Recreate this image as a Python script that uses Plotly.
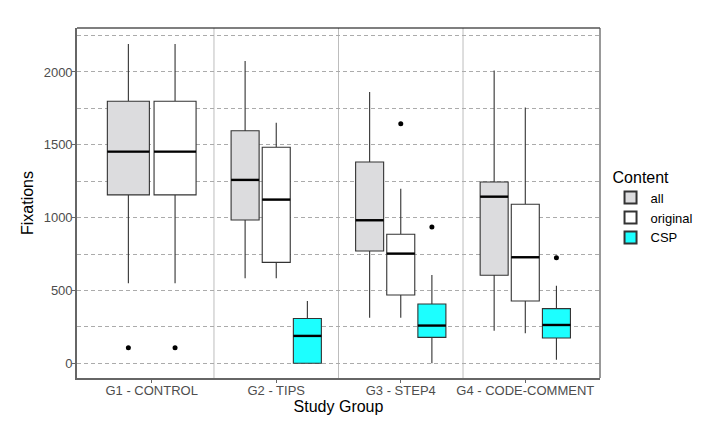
import plotly.graph_objects as go

groups = ["G1 - CONTROL", "G2 - TIPS", "G3 - STEP4", "G4 - CODE-COMMENT"]
contents = ["all", "original", "CSP"]
fills = {"all": "#DCDCDE", "original": "#FFFFFF", "CSP": "#1CFFFF"}

# box statistics per content, one entry per group (None = group has no such content)
all_lower = [549, 584, 313, 224]
all_q1 = [1156, 984, 771, 604]
all_median = [1453, 1259, 982, 1144]
all_q3 = [1799, 1597, 1382, 1245]
all_upper = [2192, 2075, 1863, 2011]
all_outliers = [[107], [], [], []]

original_lower = [549, 584, 313, 206]
original_q1 = [1156, 693, 469, 428]
original_median = [1453, 1124, 753, 728]
original_q3 = [1799, 1483, 886, 1092]
original_upper = [2192, 1652, 1199, 1757]
original_outliers = [[107], [], [1645], []]

csp_lower = [None, 0, 0, 25]
csp_q1 = [None, 0, 178, 174]
csp_median = [None, 188, 259, 263]
csp_q3 = [None, 307, 407, 375]
csp_upper = [None, 428, 606, 533]
csp_outliers = [[], [], [936], [725]]

stats = {
    "all": (all_lower, all_q1, all_median, all_q3, all_upper, all_outliers),
    "original": (original_lower, original_q1, original_median, original_q3, original_upper, original_outliers),
    "CSP": (csp_lower, csp_q1, csp_median, csp_q3, csp_upper, csp_outliers),
}

DODGE = 0.75
PAD = 0.9

fig = go.Figure()
shown = set()
medians = []
for gi, g in enumerate(groups):
    present = [c for c in contents if stats[c][2][gi] is not None]
    n = len(present)
    slot = DODGE / n
    w = slot * PAD
    for k, c in enumerate(present):
        lo, q1, med, q3, up, outl = stats[c]
        pos = (gi + 1) - DODGE / 2 + slot * (k + 0.5)
        fig.add_trace(go.Box(
            x=[pos], q1=[q1[gi]], median=[med[gi]], q3=[q3[gi]],
            lowerfence=[lo[gi]], upperfence=[up[gi]],
            width=w, whiskerwidth=0, boxpoints=False,
            fillcolor=fills[c], line=dict(color="#333333", width=1.1),
            name=c, legendgroup=c, showlegend=c not in shown,
        ))
        shown.add(c)
        medians.append((pos - w / 2, pos + w / 2, med[gi]))
        if outl[gi]:
            fig.add_trace(go.Scatter(
                x=[pos] * len(outl[gi]), y=outl[gi], mode="markers",
                marker=dict(color="black", size=5), showlegend=False, hoverinfo="skip",
            ))

for x0, x1, m in medians:
    fig.add_trace(go.Scatter(x=[x0, x1], y=[m, m], mode="lines",
                             line=dict(color="black", width=2.4),
                             showlegend=False, hoverinfo="skip"))

shapes = []
for gi in range(len(groups) - 1):
    shapes.append(dict(type="line", xref="x", yref="paper", x0=gi + 1.5, x1=gi + 1.5,
                       y0=0, y1=1, line=dict(color="#BDBDBD", width=1), layer="below"))
shapes.append(dict(type="line", xref="paper", yref="paper", x0=0, x1=1, y0=1, y1=1,
                   line=dict(color="black", width=1.2)))
shapes.append(dict(type="line", xref="paper", yref="paper", x0=1, x1=1, y0=0, y1=1,
                   line=dict(color="#555555", width=1.2)))

fig.update_layout(
    width=705, height=441,
    margin=dict(l=77, r=105, t=28, b=63, autoexpand=False),
    paper_bgcolor="white", plot_bgcolor="white",
    boxmode="overlay",
    font=dict(family="Liberation Sans, Arial, sans-serif", color="black"),
    shapes=shapes,
    legend=dict(
        title=dict(text="Content", font=dict(size=16, color="black")),
        font=dict(size=13, color="black"),
        xref="container", yref="container",
        x=0.866, xanchor="left", y=0.633, yanchor="top",
        tracegroupgap=0, itemsizing="constant",
    ),
    xaxis=dict(
        range=[0.4, 4.6], tickvals=[1, 2, 3, 4], ticktext=groups,
        showgrid=False, zeroline=False,
        showline=True, linecolor="#666666", linewidth=1.6,
        ticks="outside", ticklen=3, tickcolor="#666666",
        ticklabelstandoff=-3,
        tickfont=dict(size=13, color="#4D4D4D"),
        title=dict(text="Study Group", font=dict(size=16, color="black"), standoff=0),
    ),
    yaxis=dict(
        range=[-101, 2302], tickvals=[0, 500, 1000, 1500, 2000],
        showgrid=True, gridcolor="#ABABAB", griddash="4px,3px", gridwidth=1,
        minor=dict(tickvals=[250, 750, 1250, 1750, 2250], showgrid=True,
                   gridcolor="#ABABAB", griddash="4px,3px", gridwidth=1),
        zeroline=False,
        showline=True, linecolor="#666666", linewidth=1.6,
        ticks="outside", ticklen=3, tickcolor="#666666",
        ticklabelstandoff=-3,
        tickfont=dict(size=13, color="#4D4D4D"),
        title=dict(text="Fixations", font=dict(size=16, color="black"), standoff=6),
    ),
)

fig.write_html("out.html")
